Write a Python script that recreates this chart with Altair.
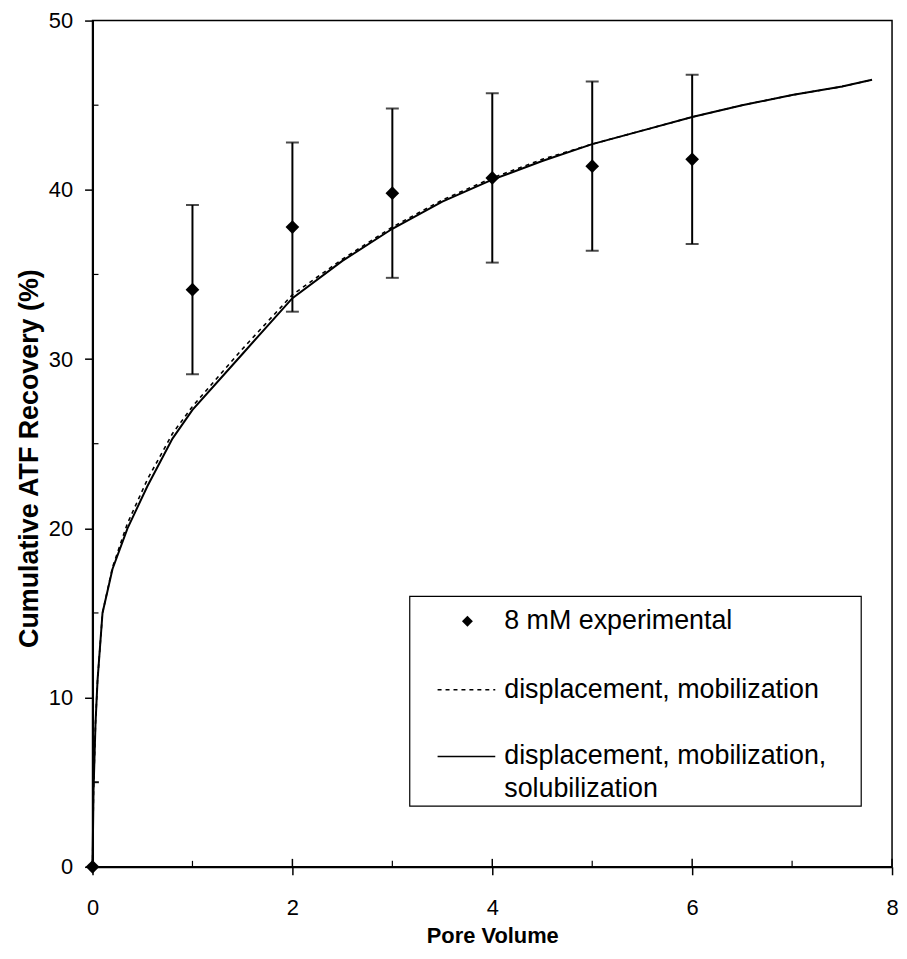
import altair as alt
import pandas as pd

# ---- data ----
exp_x = [0, 1, 2, 3, 4, 5, 6]
exp_y = [0, 34.1, 37.8, 39.8, 40.7, 41.4, 41.8]
exp_err = [5, 5, 5, 5, 5, 5, 5]

curve_x = [0, 0.01, 0.03, 0.05, 0.1, 0.2, 0.35, 0.55, 0.8, 1.0, 1.5, 2.0,
           2.5, 3.0, 3.5, 4.0, 4.5, 5.0, 5.5, 6.0, 6.5, 7.0, 7.5, 7.8]
solid_y = [0, 4.5, 8.5, 11.0, 15.0, 17.6, 20.0, 22.5, 25.3, 27.0, 30.3, 33.6,
           35.8, 37.7, 39.3, 40.6, 41.7, 42.7, 43.5, 44.3, 45.0, 45.6, 46.1, 46.5]
dashed_y = [0, 4.5, 8.5, 11.0, 15.0, 17.7, 20.3, 22.9, 25.6, 27.2, 30.6, 33.8,
            35.9, 37.8, 39.4, 40.7, 41.8, 42.7, 43.5, 44.3, 45.0, 45.6, 46.1, 46.5]

x_major = [0, 2, 4, 6, 8]
x_minor = [1, 3, 5, 7]
y_major = [0, 10, 20, 30, 40, 50]
y_minor = [5, 15, 25, 35, 45]

legend_labels = ["8 mM experimental", "displacement, mobilization",
                 "displacement, mobilization,", "solubilization"]

W, H = 804, 851
FONT = "Liberation Sans"

exp_df = pd.DataFrame({"x": exp_x, "y": exp_y, "err": exp_err})
exp_df["lo"] = exp_df["y"] - exp_df["err"]
exp_df["hi"] = exp_df["y"] + exp_df["err"]
solid_df = pd.DataFrame({"x": curve_x, "y": solid_y})
dashed_df = pd.DataFrame({"x": curve_x, "y": dashed_y})

xs = alt.Scale(domain=[0, 8], nice=False, zero=False)
ys = alt.Scale(domain=[0, 50], nice=False, zero=False)

x_axis = alt.Axis(values=x_major, format="d", title="Pore Volume", grid=False,
                  tickSize=8, tickWidth=1.5, tickColor="black",
                  domainColor="black", domainWidth=2, labelFlush=False,
                  labelFont=FONT, labelFontSize=22, labelColor="black",
                  labelPadding=23, titleFont=FONT, titleFontSize=22,
                  titleFontWeight="bold", titleColor="black",
                  titleY=76, titleBaseline="alphabetic")
y_axis = alt.Axis(values=y_major, format="d", title="Cumulative ATF Recovery (%)",
                  grid=False, tickSize=8, tickWidth=1.5, tickColor="black",
                  domainColor="black", domainWidth=2, labelFlush=False,
                  labelFont=FONT, labelFontSize=22, labelColor="black",
                  labelPadding=12, titleFont=FONT, titleFontSize=27,
                  titleFontWeight="bold", titleColor="black",
                  titleX=-63, titleY=440, titleBaseline="middle")

dashed = alt.Chart(dashed_df).mark_line(
    color="black", strokeWidth=1.6, strokeDash=[4, 4]
).encode(x=alt.X("x:Q", scale=xs, axis=x_axis), y=alt.Y("y:Q", scale=ys, axis=y_axis))

solid = alt.Chart(solid_df).mark_line(color="black", strokeWidth=2).encode(
    x=alt.X("x:Q", scale=xs), y=alt.Y("y:Q", scale=ys))

bars = alt.Chart(exp_df).mark_rule(color="black", strokeWidth=2, clip=True).encode(
    x=alt.X("x:Q", scale=xs), y=alt.Y("lo:Q", scale=ys), y2="hi:Q")
caps_hi = alt.Chart(exp_df).mark_tick(color="black", thickness=2, size=13,
                                      orient="horizontal", clip=True).encode(
    x=alt.X("x:Q", scale=xs), y=alt.Y("hi:Q", scale=ys))
caps_lo = alt.Chart(exp_df).mark_tick(color="black", thickness=2, size=13,
                                      orient="horizontal", clip=True).encode(
    x=alt.X("x:Q", scale=xs), y=alt.Y("lo:Q", scale=ys))
points = alt.Chart(exp_df).mark_point(shape="diamond", filled=True, color="black",
                                      size=190, opacity=1).encode(
    x=alt.X("x:Q", scale=xs), y=alt.Y("y:Q", scale=ys))

# inner tick marks (axis ticks that cross / point inwards)
xmaj_in = alt.Chart(pd.DataFrame({"x": x_major})).mark_rule(color="black", strokeWidth=1.5).encode(
    x=alt.X("x:Q", scale=xs), y=alt.value(H), y2=alt.value(H - 8))
xmin_in = alt.Chart(pd.DataFrame({"x": x_minor})).mark_rule(color="black", strokeWidth=1.2).encode(
    x=alt.X("x:Q", scale=xs), y=alt.value(H), y2=alt.value(H - 6))
ymin_in = alt.Chart(pd.DataFrame({"y": y_minor})).mark_rule(color="black", strokeWidth=1.2).encode(
    y=alt.Y("y:Q", scale=ys), x=alt.value(0), x2=alt.value(6))

# legend box
one = pd.DataFrame({"a": [0]})
leg_box = alt.Chart(one).mark_rect(fill="white", stroke="black", strokeWidth=1.2).encode(
    x=alt.value(319), x2=alt.value(773), y=alt.value(579), y2=alt.value(790))
leg_pt = alt.Chart(one).mark_point(shape="diamond", filled=True, color="black",
                                   size=120, opacity=1).encode(
    x=alt.value(377), y=alt.value(604))
leg_dash = alt.Chart(one).mark_rule(color="black", strokeWidth=1.6, strokeDash=[4, 4]).encode(
    x=alt.value(347), x2=alt.value(405), y=alt.value(673))
leg_solid = alt.Chart(one).mark_rule(color="black", strokeWidth=1.6).encode(
    x=alt.value(347), x2=alt.value(405), y=alt.value(740))


def leg_text(label, ypix):
    return alt.Chart(pd.DataFrame({"t": [label]})).mark_text(
        align="left", baseline="middle", font=FONT, fontSize=27, color="black"
    ).encode(text="t:N", x=alt.value(414), y=alt.value(ypix))


legend_layers = [leg_box, leg_pt, leg_dash, leg_solid,
                 leg_text(legend_labels[0], 604), leg_text(legend_labels[1], 673),
                 leg_text(legend_labels[2], 740), leg_text(legend_labels[3], 773)]

chart = alt.layer(
    dashed, solid, bars, caps_hi, caps_lo, xmaj_in, xmin_in, ymin_in, points,
    *legend_layers
).properties(
    width=W, height=H,
    autosize=alt.AutoSizeParams(type="none"),
    padding={"left": 85, "top": 10, "right": 7, "bottom": 82},
    background="white",
).configure_view(stroke="black", strokeWidth=1.5)

chart.save("out.html", embed_options={"renderer": "svg", "actions": False})
